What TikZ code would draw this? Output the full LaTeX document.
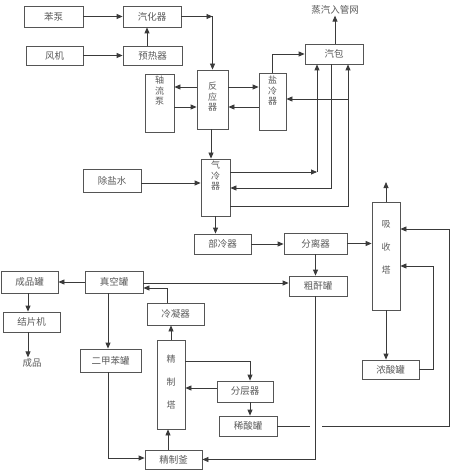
\documentclass[tikz,border=0pt]{standalone}
\usepackage{fontspec}
\newfontfamily\cjk{Noto Sans CJK SC}
\usetikzlibrary{arrows.meta}
\definecolor{boxc}{HTML}{555555}
\definecolor{linec}{HTML}{3A3A3A}
\definecolor{txtc}{HTML}{5A5A5A}
\begin{document}
\begin{tikzpicture}[x=1pt,y=-1pt,
  box/.style={draw=boxc, line width=0.8pt, inner sep=0pt, text=txtc, font=\cjk\fontsize{9.5}{10}\selectfont},
  vtxt/.style={text=txtc, align=center, inner sep=0pt, font=\cjk\fontsize{9}{10.5}\selectfont},
  vtxtw/.style={vtxt, font=\cjk\fontsize{9}{23}\selectfont},
  arr/.style={draw=linec, line width=0.8pt, -{Triangle[length=6pt,width=5pt]}},
  ln/.style={draw=linec, line width=0.8pt}]
\useasboundingbox (0,0) rectangle (450,470);
% boxes
\node[box, minimum width=59pt, minimum height=21pt] (benbeng) at (53.5,16.5) {苯泵};
\node[box, minimum width=58pt, minimum height=21pt] (qihua) at (152,16.5) {汽化器};
\node[box, minimum width=57pt, minimum height=19pt] (fengji) at (54.5,55.5) {风机};
\node[box, minimum width=59pt, minimum height=19pt] (yure) at (152.5,55.5) {预热器};
\node[box, minimum width=29pt, minimum height=58pt] (zhouliu) at (159.5,103) {};
\node[box, minimum width=31pt, minimum height=59pt] (fanying) at (212.5,99.5) {};
\node[box, minimum width=27pt, minimum height=57pt] (yanleng) at (272.5,101.5) {};
\node[box, minimum width=58pt, minimum height=20pt] (qibao) at (334,54) {汽包};
\node[box, minimum width=29pt, minimum height=57pt] (qileng) at (215.5,187.5) {};
\node[box, minimum width=58pt, minimum height=23pt] (chuyan) at (112,180.5) {除盐水};
\node[box, minimum width=57pt, minimum height=20pt] (buleng) at (222.5,244) {部冷器};
\node[box, minimum width=63pt, minimum height=21pt] (fenli) at (315.5,243.5) {分离器};
\node[box, minimum width=28pt, minimum height=108pt] (xishou) at (386,256) {};
\node[box, minimum width=58pt, minimum height=20pt] (cugan) at (318,286) {粗酐罐};
\node[box, minimum width=57pt, minimum height=22pt] (chengpin) at (29.5,282) {成品罐};
\node[box, minimum width=58pt, minimum height=22pt] (zhenkong) at (114,282) {真空罐};
\node[box, minimum width=57pt, minimum height=20pt] (jiepian) at (31.5,322) {结片机};
\node[box, minimum width=57pt, minimum height=22pt] (lengning) at (175.5,314) {冷凝器};
\node[box, minimum width=61pt, minimum height=23pt] (erjia) at (110.5,360.5) {二甲苯罐};
\node[box, minimum width=28pt, minimum height=89pt] (jingzhi) at (171,384.5) {};
\node[box, minimum width=56pt, minimum height=21pt] (fenceng) at (245,391.5) {分层器};
\node[box, minimum width=58pt, minimum height=20pt] (xisuan) at (248,426) {稀酸罐};
\node[box, minimum width=57pt, minimum height=19pt] (nongsuan) at (390.5,369.5) {浓酸罐};
\node[box, minimum width=57pt, minimum height=19pt] (jingfu) at (173.5,459.5) {精制釜};
% vertical texts
\node[vtxt] (t-zhouliu) at (159.5,91) {轴\\流\\泵};
\node[vtxt] (t-fanying) at (212.5,97) {反\\应\\器};
\node[vtxt] (t-yanleng) at (272.5,91) {盐\\冷\\器};
\node[vtxt] (t-qileng) at (215.5,176) {气\\冷\\器};
\node[vtxtw] (t-xishou) at (386,247) {吸\\收\\塔};
\node[vtxtw] (t-jingzhi) at (171,382) {精\\制\\塔};
% free texts
\node[text=txtc, inner sep=1pt, font=\cjk\fontsize{9.5}{10}\selectfont] (steam) at (335,10) {蒸汽入管网};
\node[text=txtc, inner sep=1pt, font=\cjk\fontsize{9.5}{10}\selectfont] (product) at (32,363) {成品};
% coordinates
\coordinate (yA) at (0,87);
\coordinate (yB) at (0,107);
\coordinate (yC) at (0,172);
\coordinate (yD) at (0,188);
\coordinate (yE) at (0,206);
\coordinate (yF) at (0,99);
\coordinate (yG) at (0,183);
\coordinate (yH) at (0,266);
\coordinate (yI) at (0,229);
\coordinate (yJ) at (0,283);
\coordinate (yK) at (0,288);
\coordinate (yL) at (0,458);
\coordinate (yM) at (0,361);
\coordinate (yN) at (0,388);
\coordinate (xA) at (317,0);
\coordinate (xB) at (331,0);
\coordinate (xC) at (348,0);
\coordinate (xD) at (211,0);
\coordinate (xE) at (433,0);
\coordinate (xF) at (449,0);
\coordinate (xG) at (167,0);
\coordinate (xH) at (28,0);
\coordinate (xI) at (108,0);
\coordinate (xJ) at (168,0);
\coordinate (xK) at (250,0);
\coordinate (xL) at (315,0);
\coordinate (x147) at (147,0);
\coordinate (gapL) at (310,0);
\coordinate (gapR) at (322,0);
\coordinate (c1) at (212.5,16.5);
\coordinate (xsout) at (386,182);
% connectors
\draw[arr] (benbeng.east) -- (qihua.west);
\draw[arr] (fengji.east) -- (fengji.east -| yure.west);
\draw[arr] (yure.north -| x147) -- (qihua.south -| x147);
\draw[arr] (qihua.east) -- (c1);
\draw[arr] (c1) -- (fanying.north);
\draw[arr] (fanying.west |- yA) -- (zhouliu.east |- yA);
\draw[arr] (zhouliu.east |- yB) -- (fanying.west |- yB);
\draw[arr] (fanying.east |- yA) -- (yanleng.west |- yA);
\draw[arr] (yanleng.west |- yB) -- (fanying.east |- yB);
\draw[arr] (yanleng.north) |- (qibao.west);
\draw[arr] (qibao.north -| steam) -- (steam.south);
\draw[arr] (qileng.east |- yC) -- (xA |- yC);
\draw[arr] (xA |- yC) -- (xA |- qibao.south);
\draw[arr] (xB |- qibao.south) |- (qileng.east |- yD);
\draw[arr] (qileng.east |- yE) -| (xC |- qibao.south);
\draw[arr] (xC |- yF) -- (yanleng.east |- yF);
\draw[arr] (fanying.south -| xD) -- (qileng.north -| xD);
\draw[arr] (chuyan.east |- yG) -- (qileng.west |- yG);
\draw[arr] (qileng.south) -- (qileng.south |- buleng.north);
\draw[arr] (buleng.east) -- (buleng.east -| fenli.west);
\draw[arr] (fenli.east) -- (fenli.east -| xishou.west);
\draw[arr] (fenli.south) -- (fenli.south |- cugan.north);
\draw[arr] (xishou.north) -- (xsout);
\draw[arr] (xishou.south) -- (xishou.south |- nongsuan.north);
\draw[arr] (nongsuan.east) -| (xE |- yH) -- (xishou.east |- yH);
\draw[ln] (xisuan.east) -- (gapL |- xisuan.east);
\draw[arr] (gapR |- xisuan.east) -| (xF |- yI) -- (xishou.east |- yI);
\draw[arr] (cugan.south -| xL) |- (jingfu.east);
\draw[arr] (zhenkong.east |- yJ) -- (cugan.west |- yJ);
\draw[arr] (zhenkong.west) -- (chengpin.east);
\draw[arr] (lengning.north -| xG) |- (zhenkong.east |- yK);
\draw[arr] (chengpin.south -| xH) -- (jiepian.north -| xH);
\draw[arr] (jiepian.south -| xH) -- (product.north -| xH);
\draw[arr] (zhenkong.south -| xI) -- (erjia.north -| xI);
\draw[arr] (erjia.south -| xI) |- (jingfu.west |- yL);
\draw[arr] (jingfu.north -| xJ) -- (jingzhi.south -| xJ);
\draw[arr] (jingzhi.north) -- (jingzhi.north |- lengning.south);
\draw[arr] (jingzhi.east |- yM) -| (xK |- fenceng.north);
\draw[arr] (fenceng.west |- yN) -- (jingzhi.east |- yN);
\draw[arr] (fenceng.south -| xK) -- (xisuan.north -| xK);
\end{tikzpicture}
\end{document}
